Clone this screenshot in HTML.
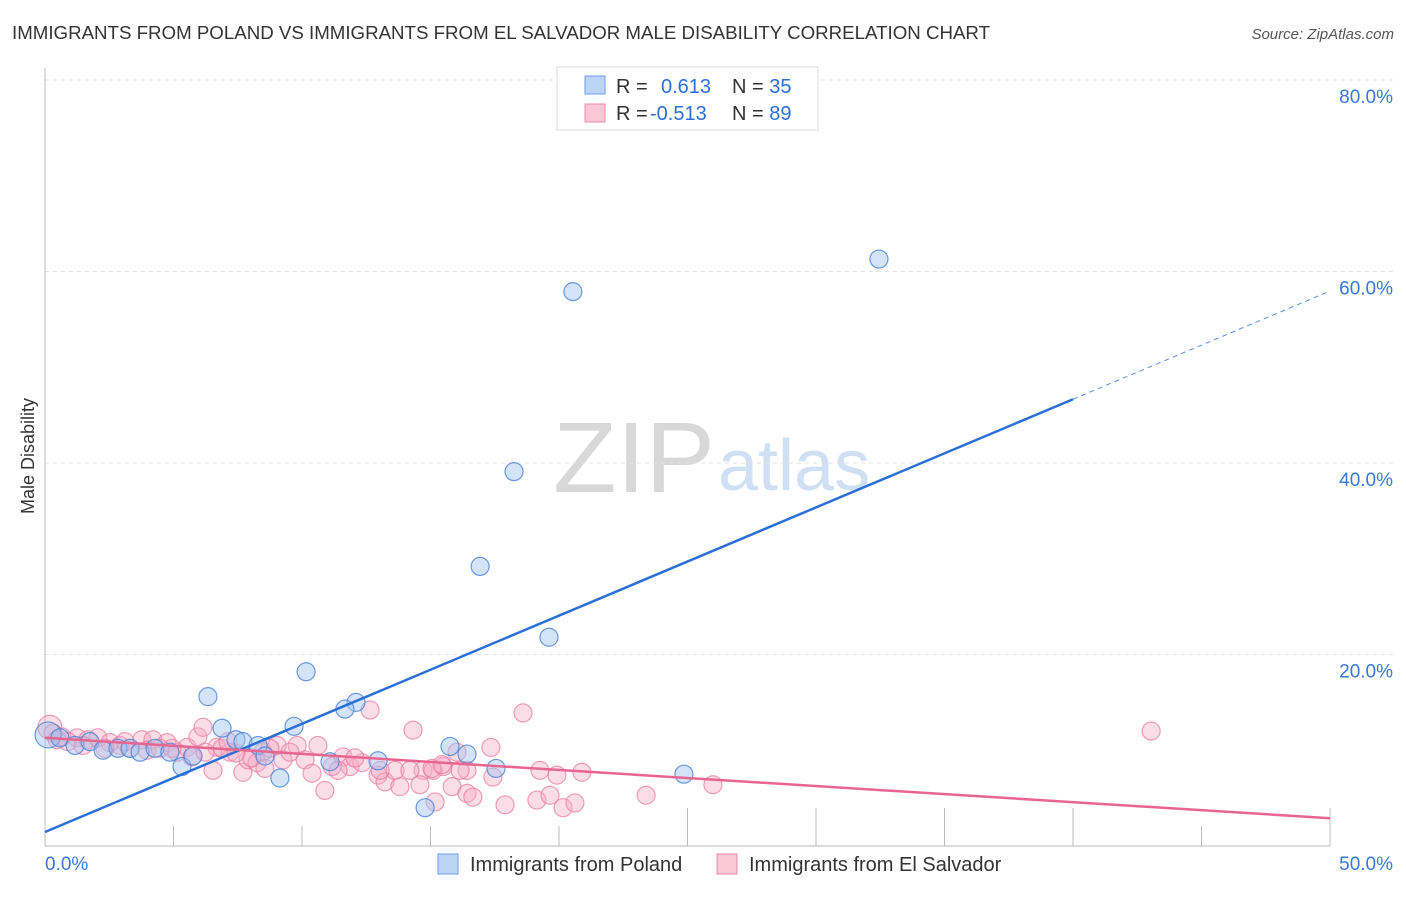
<!DOCTYPE html>
<html><head><meta charset="utf-8"><style>
body{margin:0;background:#fff;font-family:"Liberation Sans",sans-serif;}
svg text{font-family:"Liberation Sans",sans-serif;}
</style></head><body>
<svg width="1406" height="892" xmlns="http://www.w3.org/2000/svg">
<text x="12" y="39" font-size="18" fill="#333" textLength="978" lengthAdjust="spacingAndGlyphs">IMMIGRANTS FROM POLAND VS IMMIGRANTS FROM EL SALVADOR MALE DISABILITY CORRELATION CHART</text>
<text x="1394" y="39" font-size="15" fill="#555" font-style="italic" text-anchor="end">Source: ZipAtlas.com</text>
<text x="34" y="456" font-size="18" fill="#333" transform="rotate(-90 34 456)" text-anchor="middle">Male Disability</text>
<g><text x="553" y="492" font-size="100" fill="#d8d8d8" font-family="Liberation Serif" textLength="162" lengthAdjust="spacingAndGlyphs">ZIP</text><text x="718" y="490" font-size="72" fill="#cfe0f5">atlas</text></g>
<g id="grid"></g><g id="axes"></g><g id="pts"></g><g id="lines"></g>
<g>
<rect x="557" y="67" width="261" height="63" fill="#fff" stroke="#ddd"/>
<rect x="585" y="76" width="20" height="18" fill="#bcd4f5" stroke="#6d9ee6"/>
<rect x="585" y="104" width="20" height="18" fill="#f9c7d6" stroke="#ec8aa9"/>
<text x="616" y="93" font-size="20" fill="#333">R = <tspan fill="#2b6fd6" x="661">0.613</tspan><tspan fill="#333" x="732">N = </tspan><tspan fill="#2b6fd6">35</tspan></text>
<text x="616" y="120" font-size="20" fill="#333">R = <tspan fill="#2b6fd6" x="650">-0.513</tspan><tspan fill="#333" x="732">N = </tspan><tspan fill="#2b6fd6">89</tspan></text>
</g>
<g>
<rect x="438" y="854" width="20" height="20" fill="#bcd4f5" stroke="#6d9ee6"/>
<text x="470" y="871" font-size="20" fill="#333">Immigrants from Poland</text>
<rect x="717" y="854" width="20" height="20" fill="#f9c7d6" stroke="#ec8aa9"/>
<text x="749" y="871" font-size="20" fill="#333">Immigrants from El Salvador</text>
</g>
</svg>
<script>
const yTicks=[20,40,60,80];
const yTickLabels=["20.0%","40.0%","60.0%","80.0%"];
const xTickLabels=["0.0%","50.0%"];
const polandX=[32.45,20.54,18.25,16.93,19.61,10.16,6.34,12.10,11.67,6.89,9.69,15.76,16.42,24.86,17.55,14.79,9.14,5.33,0.12,0.58,1.17,1.75,2.26,2.84,3.31,3.70,4.28,4.86,5.76,7.43,7.70,8.29,8.56,11.09,12.96];
const polandY=[61.3,57.9,39.1,29.2,21.8,18.2,15.6,15.0,14.3,12.3,12.5,10.4,9.6,7.5,8.1,4.0,7.1,8.3,11.6,11.3,10.5,10.9,10.0,10.2,10.2,9.8,10.2,9.8,9.4,11.1,10.9,10.5,9.4,8.8,8.9];
const salvX=[0.19,0.31,0.66,1.25,1.67,2.06,2.53,2.92,3.31,3.77,4.20,4.75,5.14,5.53,5.95,6.15,6.54,6.69,7.20,7.70,7.90,8.25,8.48,9.03,9.26,9.81,10.12,10.39,10.62,10.89,11.17,11.60,11.87,12.33,12.65,12.96,13.23,13.81,14.32,14.71,15.10,15.18,15.49,15.06,15.45,15.84,16.03,16.42,16.42,16.65,17.35,17.43,17.90,18.60,19.14,19.26,19.65,19.92,20.16,20.62,20.89,23.39,25.99,43.04,0.47,0.89,1.48,2.33,3.11,3.97,4.47,4.94,5.72,6.23,6.89,7.43,8.05,8.75,9.53,7.12,8.56,11.40,12.06,13.62,14.20,13.04,16.15,14.59];
const salvY=[12.4,11.8,11.4,11.3,11.1,11.3,10.8,10.5,10.2,11.1,11.1,10.8,9.8,10.3,11.4,12.4,7.9,10.3,9.8,7.7,9.0,8.7,9.8,10.5,9.0,10.5,9.0,7.6,10.5,5.8,8.3,9.3,8.3,8.7,14.2,7.4,6.7,6.2,12.1,7.9,7.9,4.6,8.3,8.1,8.5,6.2,9.8,7.9,5.5,5.1,10.3,7.2,4.3,13.9,4.8,7.9,5.3,7.4,4.0,4.5,7.7,5.3,6.4,12.0,11.1,10.9,10.5,10.2,10.9,10.0,10.2,10.2,9.3,9.8,10.2,9.7,9.2,10.2,9.8,10.9,8.1,7.9,9.2,7.9,7.9,7.9,7.9,6.4];
const polandFit=[1.46,1.13];   // intercept, slope
const salvFit=[11.3,-0.168];
const NS="http://www.w3.org/2000/svg";
const X=v=>45+v*25.7, Y=v=>846-v*9.575;
function mk(tag,attrs,parent){const e=document.createElementNS(NS,tag);for(const k in attrs)e.setAttribute(k,attrs[k]);document.getElementById(parent).appendChild(e);return e;}
yTicks.forEach((t,i)=>{
 const g=mk('line',{x1:45,x2:1395,y1:Y(t),y2:Y(t),stroke:'#e2e2e2','stroke-dasharray':'4,4'},'grid');
 
 
 const l=mk('text',{x:1393,y:Y(t)+23,'font-size':19,fill:'#3a78d8','text-anchor':'end'},'grid');
 l.textContent=yTickLabels[i];
 
 
});
const ax=mk('line',{x1:45,x2:45,y1:68,y2:846,stroke:'#bbb'},'axes');


const bx=mk('line',{x1:45,x2:1330,y1:846,y2:846,stroke:'#bbb'},'axes');


for(let i=1;i<=10;i++){
 const t=mk('line',{x1:X(i*5),x2:X(i*5),y1:846,y2:(i>=5&&i<=8)||i==10?808:826,stroke:'#bbb'},'axes');
 
 
}
[[0,'start',45],[50,'end',1393]].forEach((d,i)=>{
 const l=mk('text',{x:d[2],y:870,'font-size':19,fill:'#3a78d8','text-anchor':d[1]},'axes');
 l.textContent=xTickLabels[i];
 
 
});
salvX.forEach((x,i)=>{
 const c=mk('circle',{cx:X(x),cy:Y(salvY[i]),r:i==0?12:9,fill:'rgba(246,170,195,0.4)',stroke:'rgba(232,120,160,0.7)','stroke-width':1.2},'pts');
 
 
});
polandX.forEach((x,i)=>{
 const c=mk('circle',{cx:X(x),cy:Y(polandY[i]),r:i==18?13:9,fill:'rgba(160,195,240,0.45)',stroke:'rgba(70,130,215,0.8)','stroke-width':1.2},'pts');
 
 
});
const pl=mk('line',{x1:X(0),y1:Y(polandFit[0]),x2:X(40),y2:Y(polandFit[0]+40*polandFit[1]),stroke:'#2a6fd6','stroke-width':2.5},'lines');


const pd=mk('line',{x1:X(40),y1:Y(polandFit[0]+40*polandFit[1]),x2:X(50),y2:Y(polandFit[0]+50*polandFit[1]),stroke:'#5a90dd','stroke-width':1,'stroke-dasharray':'5,4'},'lines');


const sl=mk('line',{x1:X(0),y1:Y(salvFit[0]),x2:X(50),y2:Y(salvFit[0]+50*salvFit[1]),stroke:'#e8658f','stroke-width':2.5},'lines');


</script>
</body></html>
